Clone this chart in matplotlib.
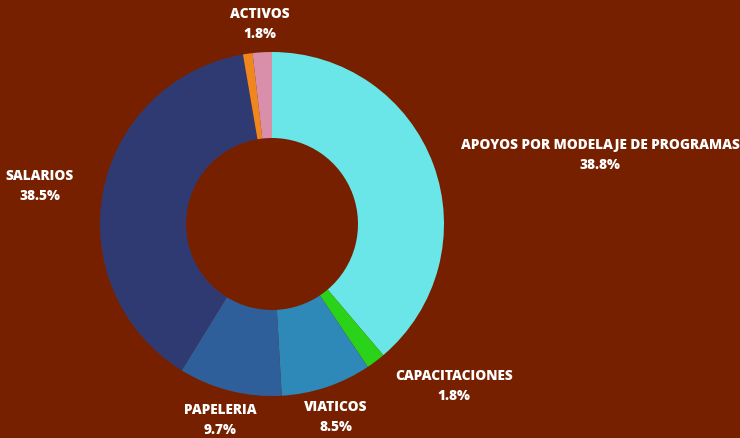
import matplotlib
matplotlib.use('Agg')
import matplotlib.pyplot as plt

categories = ['APOYOS POR MODELAJE DE PROGRAMAS', 'CAPACITACIONES', 'VIATICOS',
              'PAPELERIA', 'SALARIOS', '', 'ACTIVOS']
shares = [38.8, 1.8, 8.5, 9.7, 38.5, 0.9, 1.8]
colors = ['#6ae6e8', '#2ad31a', '#2e88b8', '#2f5f9a', '#303a72', '#f0861e', '#d98faa']

# label anchor positions in pixels (x, y from top)
label_pos = [(600, 155), (454, 386), (336, 417), (220, 420), (40, 186), None, (260, 24)]

W, H = 740, 438
bg = '#772000'

plt.rcParams['font.family'] = ['Open Sans', 'DejaVu Sans']

fig = plt.figure(figsize=(W / 100, H / 100), dpi=100, facecolor=bg)
ax = fig.add_axes([0, 0, 1, 1])
ax.set_facecolor(bg)

cx, cy, r = 272, H - 224, 172
ax.pie(shares, colors=colors, startangle=90, counterclock=False,
       center=(cx, cy), radius=r, frame=True,
       wedgeprops=dict(width=r * 0.5, linewidth=0))
ax.set_xlim(0, W)
ax.set_ylim(0, H)
ax.set_aspect('equal')
ax.axis('off')

for name, val, pos in zip(categories, shares, label_pos):
    if pos is None:
        continue
    ax.text(pos[0], H - pos[1], f'{name}\n{val:.1f}%', ha='center', va='center',
            color='white', fontsize=9.8, fontweight=800, linespacing=1.6)

fig.savefig('out.png', dpi=100, facecolor=bg)
